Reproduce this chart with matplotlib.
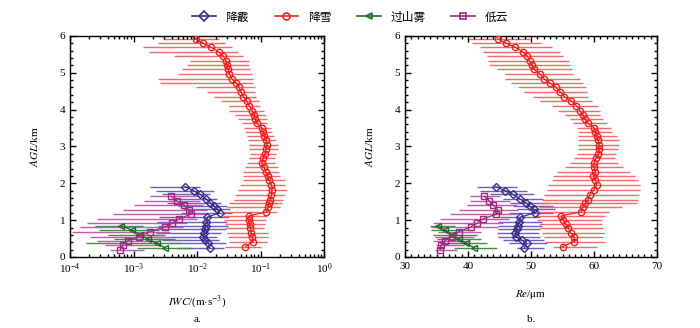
import matplotlib
matplotlib.use('Agg')
import matplotlib.pyplot as plt
from matplotlib.ticker import MultipleLocator, LogLocator, NullFormatter
from matplotlib.lines import Line2D

plt.rcParams['font.family'] = ['Liberation Serif', 'Noto Sans CJK SC']
plt.rcParams['mathtext.fontset'] = 'stix'

# heights (km) and log10(IWC), errorbar ends, Re (um) with errorbar ends
h_snow = [0.28, 0.42, 0.55, 0.66, 0.78, 0.90, 1.00, 1.12, 1.22, 1.35, 1.46, 1.55,
          1.68, 1.82, 1.95, 2.09, 2.20, 2.32, 2.44, 2.56, 2.68, 2.80, 2.92, 3.04,
          3.18, 3.29, 3.40, 3.51, 3.63, 3.74, 3.86, 3.97, 4.11, 4.24, 4.35, 4.49,
          4.61, 4.72, 4.83, 4.97, 5.10, 5.21, 5.32, 5.46, 5.57, 5.69, 5.80, 5.92]
iwc_snow = [-1.24, -1.12, -1.13, -1.15, -1.16, -1.17, -1.18, -1.18, -0.91, -0.88, -0.86, -0.85,
            -0.83, -0.82, -0.83, -0.86, -0.89, -0.92, -0.95, -0.98, -0.96, -0.93, -0.91, -0.90,
            -0.92, -0.94, -0.96, -0.98, -1.06, -1.08, -1.10, -1.13, -1.18, -1.22, -1.27, -1.31,
            -1.34, -1.38, -1.45, -1.49, -1.51, -1.53, -1.54, -1.59, -1.66, -1.78, -1.90, -2.02]
iwc_snow_lo = [-1.56, -1.50, -1.52, -1.53, -1.56, -1.56, -1.58, -1.59, -1.57, -1.53, -1.49, -1.42,
               -1.40, -1.35, -1.32, -1.28, -1.28, -1.27, -1.24, -1.22, -1.18, -1.17, -1.19, -1.19,
               -1.20, -1.21, -1.24, -1.26, -1.29, -1.35, -1.41, -1.49, -1.49, -1.63, -1.74, -1.84,
               -2.02, -2.59, -2.62, -2.30, -2.24, -2.16, -2.11, -2.36, -2.76, -2.85, -2.61, -2.54]
iwc_snow_hi = [-1.00, -0.90, -0.88, -0.88, -0.94, -0.93, -0.92, -0.90, -0.74, -0.69, -0.66, -0.64,
               -0.61, -0.59, -0.61, -0.61, -0.69, -0.71, -0.73, -0.77, -0.77, -0.75, -0.73, -0.73,
               -0.75, -0.79, -0.82, -0.83, -0.90, -0.90, -0.92, -0.94, -1.01, -1.03, -1.07, -1.08,
               -1.08, -1.12, -1.12, -1.13, -1.16, -1.19, -1.19, -1.27, -1.35, -1.45, -1.56, -1.65]
re_snow = [55.0, 56.9, 56.8, 56.3, 55.9, 55.5, 55.1, 54.8, 57.9, 58.2, 58.6, 59.0,
           59.3, 60.0, 60.4, 60.2, 59.9, 60.2, 60.0, 60.0, 60.3, 60.7, 60.8, 60.8,
           60.6, 60.4, 60.2, 60.0, 59.0, 58.6, 58.2, 57.8, 57.2, 56.4, 55.3, 54.6,
           53.9, 53.0, 52.1, 51.4, 50.4, 50.1, 49.8, 49.4, 48.7, 47.5, 46.1, 44.7]
re_snow_lo = [53.5, 52.2, 52.0, 51.7, 51.4, 51.2, 50.9, 50.8, 50.9, 51.2, 51.4, 51.7,
              52.1, 52.5, 52.7, 53.3, 53.5, 54.2, 55.4, 56.2, 56.8, 57.3, 57.5, 57.5,
              57.5, 57.5, 57.5, 57.3, 56.6, 56.2, 55.4, 54.3, 53.4, 51.4, 50.3, 48.9,
              48.0, 46.9, 45.9, 45.9, 44.6, 43.4, 43.2, 43.0, 42.4, 41.9, 40.7, 39.8]
re_snow_hi = [60.4, 61.7, 61.5, 61.6, 61.5, 61.3, 61.2, 61.7, 62.3, 64.4, 66.8, 67.0,
              67.2, 67.3, 67.3, 67.0, 66.5, 65.7, 64.6, 63.8, 63.3, 63.5, 63.8, 64.0,
              63.9, 63.7, 62.8, 62.7, 62.1, 61.5, 61.0, 60.9, 60.7, 59.6, 59.1, 58.9,
              58.7, 58.3, 57.8, 56.7, 56.5, 56.2, 56.1, 55.1, 54.6, 53.3, 51.6, 49.8]

h_graupel = [0.24, 0.37, 0.46, 0.55, 0.64, 0.75, 0.85, 0.96, 1.08, 1.20, 1.29, 1.38,
             1.47, 1.57, 1.70, 1.80, 1.91]
iwc_graupel = [-1.80, -1.82, -1.87, -1.90, -1.89, -1.87, -1.865, -1.855, -1.84, -1.645, -1.68, -1.73,
               -1.79, -1.855, -1.95, -2.055, -2.19]
iwc_graupel_lo = [-2.32, -2.45, -2.55, -2.70, -2.65, -2.60, -2.62, -2.63, -2.60, -2.25, -2.22, -2.30,
                  -2.47, -2.42, -2.55, -2.64, -2.74]
iwc_graupel_hi = [-1.58, -1.55, -1.65, -1.69, -1.62, -1.55, -1.52, -1.53, -1.50, -1.45, -1.48, -1.53,
                  -1.63, -1.69, -1.79, -1.74, -1.96]
re_graupel = [48.9, 49.3, 48.5, 47.6, 47.5, 47.7, 47.9, 48.1, 48.3, 50.6, 50.4, 49.8,
              49.2, 48.3, 47.1, 45.9, 44.4]
re_graupel_lo = [47.7, 46.5, 45.5, 44.8, 44.6, 44.7, 44.8, 44.8, 45.0, 46.5, 47.7, 47.2,
                 46.7, 45.6, 43.5, 41.9, 41.4]
re_graupel_hi = [52.0, 52.5, 52.0, 51.5, 51.2, 51.5, 51.7, 51.7, 51.5, 53.5, 53.8, 53.5,
                 53.0, 51.9, 50.5, 49.3, 47.7]

h_fog = [0.25, 0.37, 0.49, 0.61, 0.73, 0.85]
iwc_fog = [-2.50, -2.63, -2.77, -2.90, -3.03, -3.19]
iwc_fog_lo = [-2.95, -3.75, -3.30, -3.40, -3.55, -3.60]
iwc_fog_hi = [-2.10, -2.25, -2.35, -2.50, -2.60, -2.85]
re_fog = [41.0, 39.7, 38.5, 37.4, 36.3, 35.3]
re_fog_lo = [37.7, 35.5, 35.0, 34.5, 34.2, 34.0]
re_fog_hi = [44.6, 43.0, 42.0, 41.5, 40.5, 37.9]

h_low = [0.19, 0.33, 0.44, 0.55, 0.69, 0.81, 0.91, 1.03, 1.16, 1.28, 1.41, 1.52, 1.65]
iwc_low = [-3.21, -3.17, -3.09, -2.92, -2.74, -2.51, -2.39, -2.29, -2.10, -2.13, -2.21, -2.32, -2.41]
iwc_low_lo = [-3.37, -3.45, -3.58, -3.68, -3.97, -3.84, -3.74, -3.58, -3.32, -3.16, -3.00, -2.84, -2.74]
iwc_low_hi = [-2.84, -2.63, -2.63, -2.47, -2.42, -2.22, -2.16, -2.00, -1.84, -1.84, -1.90, -1.95, -1.95]
re_low = [35.6, 35.7, 36.3, 37.4, 38.6, 40.4, 41.4, 42.3, 44.5, 44.7, 44.0, 43.4, 42.6]
re_low_lo = [34.8, 34.9, 34.5, 34.8, 35.2, 34.2, 34.5, 35.5, 37.1, 38.5, 39.8, 40.3, 40.3]
re_low_hi = [38.2, 39.3, 40.3, 41.0, 42.0, 44.8, 45.5, 46.5, 47.7, 48.0, 47.7, 46.7, 45.1]

labels = ['降霰', '降雪', '过山雾', '低云']
markers = ['D', 'o', '<', 's']
line_colors = ['#3a2a8c', '#ee2020', '#1c6a28', '#a0287e']
bar_colors = ['#6c60b8', '#f26a6a', '#3f8f3f', '#c45aa8']

left_series = [
    (h_graupel, iwc_graupel, iwc_graupel_lo, iwc_graupel_hi),
    (h_snow, iwc_snow, iwc_snow_lo, iwc_snow_hi),
    (h_fog, iwc_fog, iwc_fog_lo, iwc_fog_hi),
    (h_low, iwc_low, iwc_low_lo, iwc_low_hi),
]
right_series = [
    (h_graupel, re_graupel, re_graupel_lo, re_graupel_hi),
    (h_snow, re_snow, re_snow_lo, re_snow_hi),
    (h_fog, re_fog, re_fog_lo, re_fog_hi),
    (h_low, re_low, re_low_lo, re_low_hi),
]

fig = plt.figure(figsize=(7, 3.28), dpi=100)
ax1 = fig.add_axes([0.100, 0.2165, 0.363, 0.674])
ax2 = fig.add_axes([0.5786, 0.2165, 0.360, 0.674])

for i in range(4):
    h, v, lo, hi = left_series[i]
    ax1.hlines(h, [10 ** x for x in lo], [10 ** x for x in hi], color=bar_colors[i], lw=1.0, zorder=1)
    h, v, lo, hi = right_series[i]
    ax2.hlines(h, lo, hi, color=bar_colors[i], lw=1.0, zorder=1)

for i in range(4):
    ms = 3.8 if markers[i] == 'D' else 4.6
    h, v, lo, hi = left_series[i]
    ax1.plot([10 ** x for x in v], h, color=line_colors[i], marker=markers[i], ms=ms,
             mfc='none', mew=1.0, lw=0.9, zorder=3)
    h, v, lo, hi = right_series[i]
    ax2.plot(v, h, color=line_colors[i], marker=markers[i], ms=ms,
             mfc='none', mew=1.0, lw=0.9, zorder=3)

ax1.set_xscale('log')
ax1.set_xlim(1e-4, 1)
ax1.xaxis.set_major_locator(LogLocator(base=10, numticks=10))
ax1.xaxis.set_minor_locator(LogLocator(base=10, subs=range(2, 10), numticks=10))
ax1.xaxis.set_minor_formatter(NullFormatter())
ax2.set_xlim(30, 70)
ax2.xaxis.set_major_locator(MultipleLocator(10))
ax2.xaxis.set_minor_locator(MultipleLocator(1))

for ax in (ax1, ax2):
    ax.set_ylim(0, 6)
    ax.yaxis.set_major_locator(MultipleLocator(1))
    ax.yaxis.set_minor_locator(MultipleLocator(0.2))
    ax.tick_params(which='both', direction='in', top=True, right=True, labelsize=8, width=1)
    ax.tick_params(which='major', length=4)
    ax.tick_params(which='minor', length=2)
    for s in ax.spines.values():
        s.set_linewidth(1)
    ax.set_ylabel('$\\mathit{AGL}$/km', fontsize=8, labelpad=14)

ax1.set_xlabel('$\\mathit{IWC}$/(m$\\cdot$s$^{-3}$)', fontsize=8, labelpad=12)
ax2.set_xlabel('$\\mathit{Re}$/$\\mathrm{\\mu}$m', fontsize=8, labelpad=12)
ax1.text(0.5, -0.285, 'a.', transform=ax1.transAxes, ha='center', va='center', fontsize=8)
ax2.text(0.5, -0.285, 'b.', transform=ax2.transAxes, ha='center', va='center', fontsize=8)

handles = [Line2D([], [], color=line_colors[i], marker=markers[i], mfc='none', mew=1.2,
                  ms=5, lw=1.2) for i in range(4)]
fig.legend(handles, labels, loc='center', bbox_to_anchor=(0.5, 0.948), ncol=4,
           frameon=False, handlelength=2.0, columnspacing=2.2,
           prop={'family': ['Noto Sans CJK SC'], 'size': 8.5})

fig.savefig('out.png', dpi=100)
